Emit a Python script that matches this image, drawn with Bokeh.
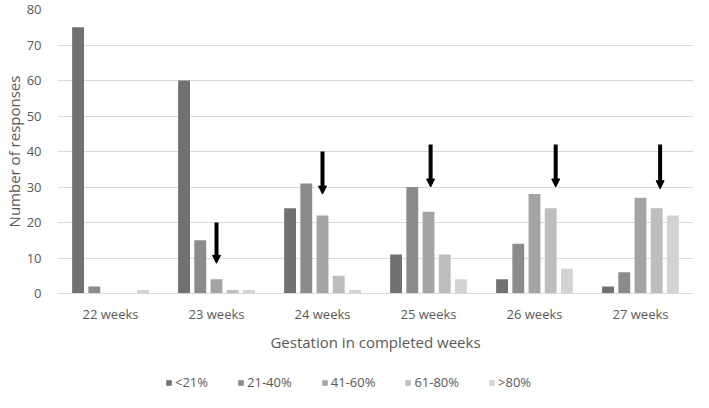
from bokeh.plotting import figure
from bokeh.layouts import column
from bokeh.models import (ColumnDataSource, Range1d, FactorRange, SingleIntervalTicker,
                          Legend, LegendItem, Arrow, NormalHead)
from bokeh.transform import dodge
from bokeh.embed import file_html
from bokeh.resources import INLINE

# ---- data ----
weeks = ["22 weeks", "23 weeks", "24 weeks", "25 weeks", "26 weeks", "27 weeks"]
series_names = ["<21%", "21-40%", "41-60%", "61-80%", ">80%"]
lt21 = [75, 60, 24, 11, 4, 2]
p21_40 = [2, 15, 31, 30, 14, 6]
p41_60 = [0, 4, 22, 23, 28, 27]
p61_80 = [0, 1, 5, 11, 24, 24]
gt80 = [1, 1, 1, 4, 7, 22]

arrow_weeks = ["23 weeks", "24 weeks", "25 weeks", "26 weeks", "27 weeks"]
arrow_offsets = [0.0, 0.0, 0.02, 0.2, 0.185]
arrow_top = [20, 40, 42, 42, 42]
arrow_tip = [8.5, 28, 30, 30, 29.5]

# ---- styles ----
colors = ["#717171", "#8b8b8b", "#a4a4a4", "#bdbdbd", "#d3d3d3"]
offsets = [-0.306, -0.153, 0.0, 0.153, 0.306]
FONT = "Open Sans"
TXT = "#595959"
GRID = "#d9d9d9"

src = ColumnDataSource(dict(week=weeks, s0=lt21, s1=p21_40, s2=p41_60, s3=p61_80, s4=gt80))

p = figure(width=693, height=370, x_range=FactorRange(*weeks), y_range=Range1d(0, 80),
           output_backend="svg", toolbar_location=None,
           min_border_left=57, min_border_right=0, min_border_top=9, min_border_bottom=77)
p.outline_line_color = None
p.background_fill_color = "white"

for i, col in enumerate(colors):
    p.vbar(x=dodge("week", offsets[i], range=p.x_range), top="s%d" % i, width=0.112,
           source=src, fill_color=col, line_color=None)

arrow_src = ColumnDataSource(dict(
    x=[[w, o] for w, o in zip(arrow_weeks, arrow_offsets)],
    y0=arrow_top, y1=arrow_tip))
p.add_layout(Arrow(end=NormalHead(size=8, fill_color="black", line_color="black", line_width=1),
                   x_start="x", y_start="y0", x_end="x", y_end="y1",
                   line_width=4, line_color="black", source=arrow_src))

# axes
p.xgrid.grid_line_color = None
p.ygrid.grid_line_color = GRID
p.ygrid.grid_line_width = 1
p.yaxis.ticker = SingleIntervalTicker(interval=10)
p.yaxis.axis_line_color = None
p.yaxis.major_tick_line_color = None
p.yaxis.minor_tick_line_color = None
p.yaxis.major_label_standoff = 10
p.yaxis.axis_label = "Number of responses"
p.yaxis.axis_label_standoff = 0
p.xaxis.axis_line_color = GRID
p.xaxis.major_tick_line_color = None
p.xaxis.minor_tick_line_color = None
p.xaxis.major_label_standoff = 5
p.xaxis.axis_label = "Gestation in completed weeks"
p.xaxis.axis_label_standoff = 6
for ax in (p.xaxis, p.yaxis):
    ax.major_label_text_font = FONT
    ax.major_label_text_font_size = "13px"
    ax.major_label_text_color = TXT
    ax.axis_label_text_font = FONT
    ax.axis_label_text_font_size = "15px"
    ax.axis_label_text_font_style = "normal"
    ax.axis_label_text_color = TXT

# legend strip (separate figure below the chart)
q = figure(width=693, height=22, x_range=Range1d(0, 1), y_range=Range1d(0, 1),
           output_backend="svg", toolbar_location=None,
           x_axis_type=None, y_axis_type=None,
           min_border_left=0, min_border_right=0, min_border_top=0, min_border_bottom=0)
q.outline_line_color = None
q.xgrid.visible = False
q.ygrid.visible = False
items = []
for name, col in zip(series_names, colors):
    # zero-height placeholder so the legend swatch has a data row to style from
    r = q.vbar(x=[0.5], top=[0], width=0.01, fill_color=col, line_color=None)
    items.append(LegendItem(label=name, renderers=[r]))
legend = Legend(items=items, orientation="horizontal", location=(108, 1),
                glyph_width=7, glyph_height=7, label_standoff=3, spacing=29,
                padding=0, margin=0, border_line_color=None, background_fill_alpha=0,
                label_text_font=FONT, label_text_font_size="13px", label_text_color=TXT)
q.add_layout(legend, "center")

layout = column(p, q, spacing=0)
open("out.html", "w").write(file_html(layout, INLINE))
